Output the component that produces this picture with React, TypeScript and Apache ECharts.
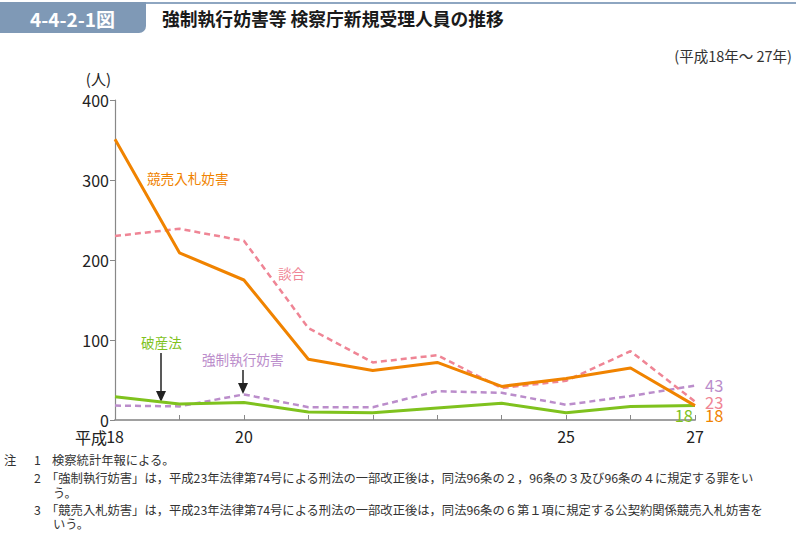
import React, { useEffect, useRef } from "react";
import * as echarts from "echarts";

const years = ["18", "19", "20", "21", "22", "23", "24", "25", "26", "27"];
const kyobai = [351, 209, 175, 76, 62, 72, 42, 52, 65, 18];
const dango = [230, 239, 224, 115, 72, 81, 40, 49, 86, 23];
const hasan = [29, 20, 22, 10, 9, 15, 21, 9, 17, 18];
const kyosei = [18, 17, 32, 16, 16, 36, 34, 19, 30, 43];
const shownYears = ["18", "20", "25", "27"];

const ORANGE = "#f08300";
const PINK = "#ef8595";
const GREEN = "#7fc21e";
const PURPLE = "#bb8dcb";
const FONT = "'Noto Sans CJK JP', 'Noto Sans', sans-serif";

const notes = [
  { y: 460, num: "1", text: "検察統計年報による。", x: 52 },
  { y: 478, num: "2", text: "「強制執行妨害」は，平成23年法律第74号による刑法の一部改正後は，同法96条の２，96条の３及び96条の４に規定する罪をい", x: 46 },
  { y: 493, num: "", text: "う。", x: 53 },
  { y: 510, num: "3", text: "「競売入札妨害」は，平成23年法律第74号による刑法の一部改正後は，同法96条の６第１項に規定する公契約関係競売入札妨害を", x: 46 },
  { y: 524, num: "", text: "いう。", x: 53 },
];

export default function App() {
  const ref = useRef<HTMLDivElement>(null);
  useEffect(() => {
    if (!ref.current) return;
    const chart = echarts.init(ref.current, null, { renderer: "svg" });
    const txt = (x: number, y: number, text: string, size: number, color: string, extra: any = {}) => ({
      type: "text",
      x,
      y,
      style: { text, fontSize: size, fill: color, fontFamily: FONT, verticalAlign: "middle", align: "left", ...extra },
    });
    const graphics: any[] = [
      { type: "rect", shape: { x: 0, y: 2, width: 796, height: 2 }, style: { fill: "#8ea6c1" } },
      { type: "rect", shape: { x: 0, y: 2, width: 146, height: 31, r: [0, 0, 7, 0] }, style: { fill: "#7f99b6" } },
      txt(30, 18, "4-4-2-1図", 19, "#ffffff", { fontWeight: "bold" }),
      txt(162, 18, "強制執行妨害等 検察庁新規受理人員の推移", 17.8, "#1a1a1a", { fontWeight: "bold" }),
      txt(792, 55, "(平成18年～ 27年)", 14.5, "#333333", { align: "right" }),
      txt(107, 437, "平成", 16, "#222222", { align: "right" }),
      txt(147, 178, "競売入札妨害", 13.6, ORANGE),
      txt(278, 273, "談合", 13.6, PINK),
      txt(141, 342, "破産法", 13.6, GREEN),
      txt(202, 359, "強制執行妨害", 13.6, PURPLE),
      { type: "line", shape: { x1: 161, y1: 353, x2: 161, y2: 394 }, style: { stroke: "#222", lineWidth: 1.5 } },
      { type: "polygon", shape: { points: [[156, 391], [166, 391], [161, 402]] }, style: { fill: "#222" } },
      { type: "line", shape: { x1: 243, y1: 370, x2: 243, y2: 385 }, style: { stroke: "#222", lineWidth: 1.5 } },
      { type: "polygon", shape: { points: [[238, 383], [248, 383], [243, 394]] }, style: { fill: "#222" } },
      txt(4, 460, "注", 12.3, "#333333", { lineHeight: 13 }),
    ];
    notes.forEach((n) => {
      if (n.num) graphics.push(txt(34, n.y, n.num, 12.3, "#333333", { lineHeight: 13 }));
      graphics.push(txt(n.x, n.y, n.text, 12.3, "#333333", { lineHeight: 13 }));
    });

    const mk = (name: string, data: number[], color: string, dashed: boolean, width: number, endLabel: any) => ({
      name,
      type: "line",
      data,
      symbol: "none",
      lineStyle: { color, width, type: dashed ? [6, 4] : "solid" },
      itemStyle: { color },
      endLabel: { show: true, color, fontSize: 16.5, lineHeight: 13, fontFamily: FONT, formatter: "{c}", ...endLabel },
      z: dashed ? 2 : 3,
    });

    chart.setOption({
      animation: false,
      grid: { left: 115, right: 101, top: 100, bottom: 113, containLabel: false },
      xAxis: {
        type: "category",
        data: years,
        boundaryGap: false,
        axisLine: { lineStyle: { color: "#a0a0a0", width: 2 } },
        axisTick: { inside: true, length: 5, interval: 0, lineStyle: { color: "#888" } },
        axisLabel: {
          interval: (i: number, v: string) => shownYears.includes(v),
          color: "#222",
          fontSize: 16,
          fontFamily: FONT,
          margin: 8,
        },
      },
      yAxis: {
        type: "value",
        min: 0,
        max: 400,
        interval: 100,
        name: "(人)",
        nameLocation: "end",
        nameGap: 14,
        nameTextStyle: { color: "#222", fontSize: 15, fontFamily: FONT, align: "right", padding: [0, 4, 0, 0] },
        axisLine: { show: true, lineStyle: { color: "#888", width: 1.2 } },
        axisTick: { show: true, length: 5, lineStyle: { color: "#888" } },
        splitLine: { show: false },
        axisLabel: { color: "#222", fontSize: 16, fontFamily: FONT, margin: 6 },
      },
      series: [
        mk("強制執行妨害", kyosei, PURPLE, true, 2.5, { offset: [2, -1] }),
        mk("談合", dango, PINK, true, 2.5, { offset: [2, 0] }),
        mk("破産法", hasan, GREEN, false, 3, { align: "right", offset: [-10, 9] }),
        mk("競売入札妨害", kyobai, ORANGE, false, 3, { offset: [2, 9] }),
      ],
      graphic: graphics,
    });
    return () => chart.dispose();
  }, []);
  return <div ref={ref} style={{ position: "fixed", left: 0, top: 0, width: 796, height: 533, background: "#fff" }} />;
}
